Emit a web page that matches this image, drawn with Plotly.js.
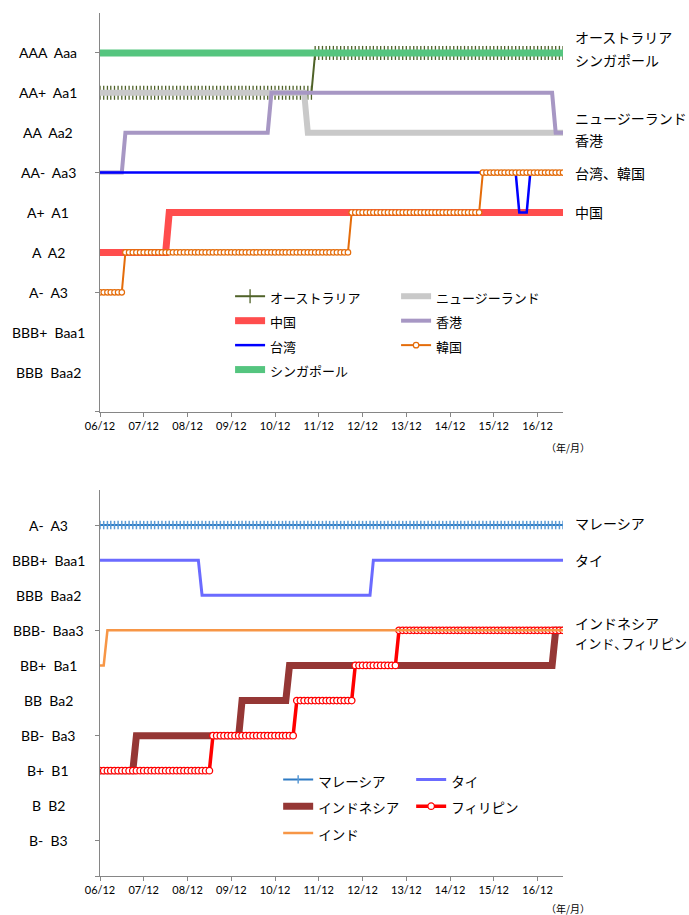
<!DOCTYPE html>
<html><head><meta charset="utf-8">
<script src="https://cdn.plot.ly/plotly-3.0.1.min.js"></script>
<style>body{margin:0;background:#fff}#chart{width:689px;height:915px}</style>
</head><body><div id="chart"></div>
<script>
// ---- time span (monthly data) ----
const firstMonth = "2006-12";
const lastMonth = "2017-07";
const unitNote = "（年/月）";

// ---- rating scales ----
const topRatingLabels = ["BBB  Baa2", "BBB+  Baa1", "A-  A3", "A  A2", "A+  A1", "AA-  Aa3", "AA  Aa2", "AA+  Aa1", "AAA  Aaa"];
const topRatingValues = [1, 2, 3, 4, 5, 6, 7, 8, 9];
const bottomRatingLabels = ["B-  B3", "B  B2", "B+  B1", "BB-  Ba3", "BB  Ba2", "BB+  Ba1", "BBB-  Baa3", "BBB  Baa2", "BBB+  Baa1", "A-  A3"];
const bottomRatingValues = [1, 2, 3, 4, 5, 6, 7, 8, 9, 10];

// ---- top panel series: month of each rating change, and rating level ----
const australiaDates = ["2006-12", "2011-11"];          const australiaLevels = [8, 9];
const newZealandDates = ["2006-12", "2011-09"];         const newZealandLevels = [8, 7];
const chinaDates = ["2006-12", "2008-07"];              const chinaLevels = [4, 5];
const hongKongDates = ["2006-12", "2007-07", "2010-11", "2017-05"]; const hongKongLevels = [6, 7, 8, 7];
const taiwanDates = ["2006-12", "2016-07", "2016-10"];  const taiwanLevels = [6, 5, 6];
const koreaDates = ["2006-12", "2007-07", "2012-09", "2015-09"]; const koreaLevels = [3, 4, 5, 6];
const singaporeDates = ["2006-12"];                     const singaporeLevels = [9];

// ---- bottom panel series ----
const malaysiaDates = ["2006-12"];                      const malaysiaLevels = [10];
const thailandDates = ["2006-12", "2009-04", "2013-03"]; const thailandLevels = [9, 8, 9];
const indonesiaDates = ["2006-12", "2007-10", "2010-03", "2011-04", "2017-05"]; const indonesiaLevels = [3, 4, 5, 6, 7];
const philippinesDates = ["2006-12", "2009-07", "2011-06", "2012-10", "2013-10"]; const philippinesLevels = [3, 4, 5, 6, 7];
const indiaDates = ["2006-12", "2007-02"];              const indiaLevels = [6, 7];

// ---- right-hand labels ----
const topSideLabels = ["オーストラリア", "シンガポール", "ニュージーランド", "香港", "台湾、韓国", "中国"];
const topSideLevels = [9.4, 8.82, 7.37, 6.82, 6.0, 5.0];
const bottomSideLabels = ["マレーシア", "タイ", "インドネシア", "インド､フィリピン"];
const bottomSideLevels = [10.05, 9.0, 7.2, 6.63];

// expand change-point table into one value per month
function monthly(dates, levels) {
  const xs = [], ys = [];
  let [y, m] = firstMonth.split("-").map(Number);
  const [ye, me] = lastMonth.split("-").map(Number);
  let k = 0;
  while (y < ye || (y === ye && m <= me)) {
    const key = y + "-" + String(m).padStart(2, "0");
    while (k + 1 < dates.length && dates[k + 1] <= key) k++;
    xs.push(key + "-01");
    ys.push(levels[k]);
    m++; if (m > 12) { m = 1; y++; }
  }
  return { x: xs, y: ys };
}

const JP = "Noto Sans CJK JP, sans-serif";
function tr(name, dates, levels, axis, legend, fs, line, marker) {
  const d = monthly(dates, levels);
  const t = { type: "scatter", name: '<span style="font-size:' + fs + 'px">' + name + '</span>', x: d.x, y: d.y,
    xaxis: axis[0], yaxis: axis[1], legend: legend, line: line, hoverinfo: "skip" };
  if (marker) { t.mode = "lines+markers"; t.marker = marker; } else { t.mode = "lines"; }
  return t;
}
const A1 = ["x", "y"], A2 = ["x2", "y2"];
const traces = [
  tr("オーストラリア", australiaDates, australiaLevels, A1, "legend", 13, { color: "#4F6228", width: 2 },
     { symbol: "line-ns", size: 10, line: { color: "#4F6228", width: 1.3 } }),
  tr("ニュージーランド", newZealandDates, newZealandLevels, A1, "legend", 13, { color: "#C9C9C9", width: 6 }),
  tr("中国", chinaDates, chinaLevels, A1, "legend", 13, { color: "#FF4D4D", width: 7 }),
  tr("香港", hongKongDates, hongKongLevels, A1, "legend", 13, { color: "#A797C4", width: 4 }),
  tr("台湾", taiwanDates, taiwanLevels, A1, "legend", 13, { color: "#0000FF", width: 2.5 }),
  tr("韓国", koreaDates, koreaLevels, A1, "legend", 13, { color: "#E46C0A", width: 2 },
     { symbol: "circle", size: 5.5, color: "#FFFFFF", line: { color: "#E46C0A", width: 1.2 } }),
  tr("シンガポール", singaporeDates, singaporeLevels, A1, "legend", 13, { color: "#55C57F", width: 7 }),

  tr("マレーシア", malaysiaDates, malaysiaLevels, A2, "legend2", 13.5, { color: "#2E7BC4", width: 2 },
     { symbol: "line-ns", size: 6, line: { color: "#5B9BD5", width: 1.5 } }),
  tr("タイ", thailandDates, thailandLevels, A2, "legend2", 13.5, { color: "#6B6BFF", width: 3 }),
  tr("インドネシア", indonesiaDates, indonesiaLevels, A2, "legend2", 13.5, { color: "#953735", width: 7 }),
  tr("フィリピン", philippinesDates, philippinesLevels, A2, "legend2", 13.5, { color: "#FF0000", width: 3.5 },
     { symbol: "circle", size: 6.5, color: "#FFFFFF", line: { color: "#FF0000", width: 1.3 } }),
  tr("インド", indiaDates, indiaLevels, A2, "legend2", 13.5, { color: "#F79646", width: 2.5 })
];

const annotations = [];
const labX = (48 - 100) / 463;
topRatingLabels.forEach((s, i) => annotations.push({ text: s.replace(/ /g, "\u00a0"), xref: "paper", yref: "y", x: labX, y: topRatingValues[i],
  xanchor: "center", yanchor: "middle", showarrow: false, font: { family: "Lato, sans-serif", size: 14, color: "#000" } }));
bottomRatingLabels.forEach((s, i) => annotations.push({ text: s.replace(/ /g, "\u00a0"), xref: "paper", yref: "y2", x: labX, y: bottomRatingValues[i],
  xanchor: "center", yanchor: "middle", showarrow: false, font: { family: "Lato, sans-serif", size: 14, color: "#000" } }));
const sideX = (573 - 100) / 463;
topSideLabels.forEach((s, i) => annotations.push({ text: s, xref: "paper", yref: "y", x: sideX, y: topSideLevels[i],
  xanchor: "left", yanchor: "middle", showarrow: false, font: { family: JP, size: 14, color: "#000" } }));
bottomSideLabels.forEach((s, i) => annotations.push({ text: s, xref: "paper", yref: "y2", x: sideX, y: bottomSideLevels[i],
  xanchor: "left", yanchor: "middle", showarrow: false, font: { family: JP, size: i === 3 ? 13.2 : 14, color: "#000" } }));
annotations.push({ text: unitNote, xref: "paper", yref: "paper", x: (568 - 100) / 463, y: (876 - 447) / 863,
  xanchor: "center", yanchor: "middle", showarrow: false, font: { family: JP, size: 10, color: "#000" } });
annotations.push({ text: unitNote, xref: "paper", yref: "paper", x: (568 - 100) / 463, y: (876 - 909) / 863,
  xanchor: "center", yanchor: "middle", showarrow: false, font: { family: JP, size: 10, color: "#000" } });

const xCommon = { type: "date", range: [firstMonth + "-01", lastMonth + "-01"], tick0: firstMonth + "-01", dtick: "M12",
  tickformat: "%y/%m", showline: true, linecolor: "#868686", linewidth: 1, ticks: "outside", ticklen: 4, tickcolor: "#868686",
  showgrid: false, zeroline: false, tickfont: { family: "Lato, sans-serif", size: 11, color: "#000" }, fixedrange: true };
const yCommon = { showline: true, linecolor: "#868686", linewidth: 1, showgrid: false, zeroline: false, showticklabels: false,
  ticks: "", fixedrange: true };

const layout = {
  width: 689, height: 915, margin: { l: 100, r: 126, t: 13, b: 39 },
  paper_bgcolor: "#fff", plot_bgcolor: "#fff", showlegend: true,
  xaxis: Object.assign({}, xCommon, { anchor: "y" }),
  xaxis2: Object.assign({}, xCommon, { anchor: "y2" }),
  yaxis: Object.assign({}, yCommon, { domain: [0.5377, 1], range: [0, 10],
    minor: { tickvals: [0, 3, 6, 9], ticks: "outside", ticklen: 4, tickcolor: "#868686", showgrid: false } }),
  yaxis2: Object.assign({}, yCommon, { domain: [0, 0.4473], range: [0, 11],
    minor: { tickvals: [0, 1, 4, 7, 10], ticks: "outside", ticklen: 4, tickcolor: "#868686", showgrid: false } }),
  legend: { orientation: "h", x: (265 - 100) / 463, y: (876 - 279) / 863, xanchor: "left", yanchor: "top",
    entrywidth: 121, entrywidthmode: "pixels", font: { family: JP, size: 16.5, color: "#000" }, bgcolor: "rgba(0,0,0,0)" },
  legend2: { orientation: "h", x: (326 - 100) / 463, y: (876 - 761) / 863, xanchor: "left", yanchor: "top",
    entrywidth: 88, entrywidthmode: "pixels", font: { family: JP, size: 18.3, color: "#000" }, bgcolor: "rgba(0,0,0,0)" },
  annotations: annotations
};

Plotly.newPlot("chart", traces, layout, { staticPlot: true, displayModeBar: false });
</script>
</body></html>
